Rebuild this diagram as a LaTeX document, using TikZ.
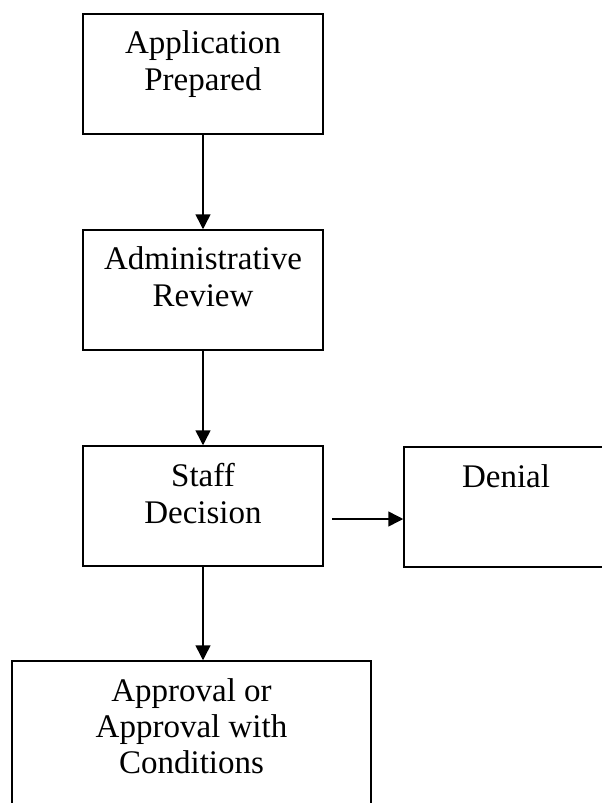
\documentclass[tikz,border=0pt]{standalone}
\usepackage{fontspec}
\setmainfont{Liberation Serif}
\usetikzlibrary{arrows.meta}
\begin{document}
\begin{tikzpicture}[x=1pt,y=-1pt,
  box/.style={draw, line width=1.5pt, rectangle, inner sep=0pt, minimum width=240pt, minimum height=120pt},
  wbox/.style={box, minimum width=359pt, minimum height=170pt},
  lbl/.style={anchor=north, inner sep=0pt, align=center, font=\fontsize{33}{37}\selectfont},
  arr/.style={line width=1.5pt, -{Triangle[length=15pt,width=15pt]}}]
\useasboundingbox (0,0) rectangle (602,803);
\clip (0,0) rectangle (602,803);
\node[box] (b1) at (203,74) {};
\node[box] (b2) at (203,290) {};
\node[box] (b3) at (203,506) {};
\node[box, minimum width=204pt] (den) at (506,507) {};
\node[wbox] (b5) at (191.5,746) {};
\node[lbl] (t1) at ([yshift=-17.5pt]b1.north) {Application\\Prepared};
\node[lbl] (t2) at ([yshift=-17.5pt]b2.north) {Administrative\\Review};
\node[lbl] (t3) at ([yshift=-17.5pt]b3.north) {Staff\\Decision};
\node[lbl] (td) at ([yshift=-18.5pt]den.north) {Denial};
\node[lbl, font=\fontsize{33}{36}\selectfont] (t5) at ([yshift=-18.5pt]b5.north) {Approval or\\Approval with\\Conditions};
\coordinate (s) at (332,519);
\draw[arr] (b1.south) -- (b2.north);
\draw[arr] (b2.south) -- (b3.north);
\draw[arr] (b3.south) -- (b3.south |- b5.north);
\draw[arr] (s) -- (s -| den.west);
\end{tikzpicture}
\end{document}
